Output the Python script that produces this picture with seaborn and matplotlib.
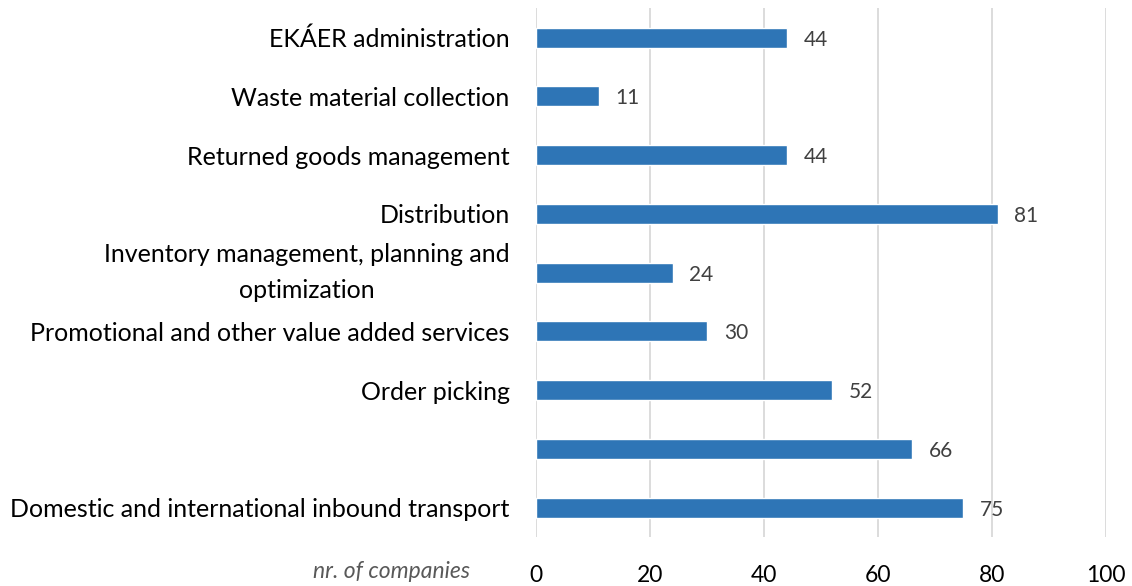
#!/usr/bin/env python3
# Horizontal bar chart: logistics services offered (nr. of companies)

import matplotlib
matplotlib.use("Agg")
import matplotlib.pyplot as plt
import matplotlib.transforms as mtransforms
import seaborn as sns

# ============================================================================
# DATA (top to bottom as shown)
# ============================================================================
services = [
    "EKÁER administration",
    "Waste material collection",
    "Returned goods management",
    "Distribution",
    "Inventory management, planning and\noptimization",
    "Promotional and other value added services",
    "Order picking",
    " ",
    "Domestic and international inbound transport",
]
companies = [44, 11, 44, 81, 24, 30, 52, 66, 75]
x_ticks = [0, 20, 40, 60, 80, 100]

# ============================================================================
# THEME SETTINGS
# ============================================================================
sns.set_theme(style="white")
plt.rcParams['font.family'] = ['Lato', 'DejaVu Sans']

bar_color = '#2E75B6'
grid_color = '#D9D9D9'

# ============================================================================
# CREATE PLOT
# ============================================================================
fig = plt.figure(figsize=(11.32, 5.86), dpi=100)
ax = fig.add_axes([0.4735, 0.0836, 0.5035, 0.9024])

sns.barplot(x=companies, y=services, orient='h', color=bar_color,
            width=0.34, saturation=1, ax=ax)

ax.set_xlim(0, 100)
ax.set_xticks(x_ticks)
ax.xaxis.grid(True, color=grid_color, linewidth=1.3)
ax.set_axisbelow(True)
for s in ax.spines.values():
    s.set_visible(False)

ax.tick_params(axis='x', length=0, labelsize=16.5, labelcolor='#000000', pad=20)
ax.tick_params(axis='y', length=0, labelsize=18, labelcolor='#000000', pad=19)
for lbl in ax.get_yticklabels():
    lbl.set_multialignment('center')
    lbl.set_linespacing(1.65)
    if "\n" in lbl.get_text():
        # nudge the two-line label up so both lines sit around the bar
        shift = mtransforms.ScaledTranslation(0, 6 / 72, fig.dpi_scale_trans)
        lbl.set_transform(lbl.get_transform() + shift)

labels = ax.bar_label(ax.containers[0], padding=12, fontsize=15, color='#404040')
for t in labels:
    t.set_va('center_baseline')

ax.set_xlabel("")
ax.set_ylabel("")
fig.text(470 / 1132, 1 - 572 / 586, "nr. of companies", ha='right', va='center',
         fontsize=16.5, style='italic', color='#595959')

# ============================================================================
# SAVE OUTPUT
# ============================================================================
plt.savefig("out.png", dpi=100)
print("Plot saved to: out.png")
plt.close()
